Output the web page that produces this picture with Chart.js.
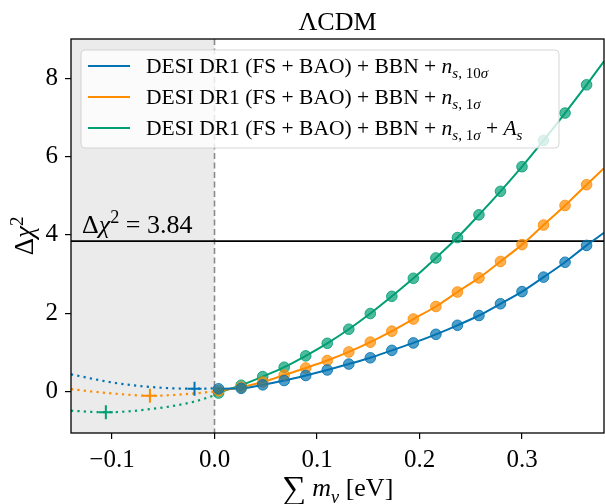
<!DOCTYPE html>
<html>
<head>
<meta charset="utf-8">
<script src="https://cdn.jsdelivr.net/npm/chart.js@4.4.1/dist/chart.umd.min.js"></script>
<style>
  body { margin: 0; background: #fff; }
  #wrap { width: 605px; height: 504px; }
</style>
</head>
<body>
<div id="wrap"><canvas id="chi2Chart" width="605" height="504"></canvas></div>
<script>
// sampled Σmν values (eV) with the Δχ² markers of each dataset
const mnu = [0.004, 0.026, 0.047, 0.068, 0.089, 0.110, 0.131, 0.152, 0.173, 0.194, 0.216, 0.237, 0.258, 0.279, 0.300, 0.321, 0.342, 0.363];
const chi2Ns10 = [0.07, 0.08, 0.17, 0.28, 0.41, 0.55, 0.70, 0.86, 1.05, 1.24, 1.46, 1.69, 1.94, 2.24, 2.55, 2.92, 3.30, 3.73];
const chi2Ns1 = [0.02, 0.11, 0.24, 0.42, 0.60, 0.79, 1.01, 1.26, 1.54, 1.85, 2.17, 2.54, 2.90, 3.32, 3.75, 4.25, 4.75, 5.28];
const chi2Ns1As = [-0.04, 0.16, 0.38, 0.62, 0.91, 1.23, 1.59, 1.99, 2.43, 2.89, 3.41, 3.93, 4.51, 5.11, 5.74, 6.41, 7.11, 7.83];

// fitted curve end values (at Σmν = 0 and at the right edge 0.38)
const fitEnds = [0, 0.38];
const fitNs10Ends = [0.08, 4.05];
const fitNs1Ends = [0.0, 5.70];
const fitNs1AsEnds = [-0.10, 8.43];

// dotted extrapolation into negative Σmν
const extNs10X = [-0.14, -0.12, -0.10, -0.08, -0.06, -0.04, -0.0195, 0];
const extNs10 = [0.44, 0.33, 0.23, 0.16, 0.11, 0.08, 0.07, 0.08];
const extNs1X = [-0.14, -0.12, -0.10, -0.08, -0.063, -0.04, -0.02, 0];
const extNs1 = [0.06, 0.0, -0.05, -0.09, -0.11, -0.09, -0.05, 0.0];
const extNs1AsX = [-0.14, -0.12, -0.106, -0.085, -0.069, -0.043, -0.02, 0];
const extNs1As = [-0.49, -0.52, -0.53, -0.51, -0.47, -0.38, -0.26, -0.10];

// minima (+ markers)
const minMnu = [-0.0195, -0.063, -0.106];
const minChi2 = [0.07, -0.11, -0.53];

const threshold = 3.84;
const xTicks = [-0.1, 0.0, 0.1, 0.2, 0.3];
const yTicks = [0, 2, 4, 6, 8];

const colors = ['#0173b2', '#ff8c00', '#029e73'];
const SERIF = '"Liberation Serif", "Times New Roman", serif';

// legend labels as pieces: i = italic, s = 'sub' / 'sup'
const legendLabels = [
  [{t: 'DESI DR1 (FS + BAO) + BBN + '}, {t: 'n', i: 1}, {t: 's', i: 1, s: 'sub'}, {t: ', 10', s: 'sub'}, {t: 'σ', i: 1, s: 'sub'}],
  [{t: 'DESI DR1 (FS + BAO) + BBN + '}, {t: 'n', i: 1}, {t: 's', i: 1, s: 'sub'}, {t: ', 1', s: 'sub'}, {t: 'σ', i: 1, s: 'sub'}],
  [{t: 'DESI DR1 (FS + BAO) + BBN + '}, {t: 'n', i: 1}, {t: 's', i: 1, s: 'sub'}, {t: ', 1', s: 'sub'}, {t: 'σ', i: 1, s: 'sub'},
   {t: ' + '}, {t: 'A', i: 1}, {t: 's', i: 1, s: 'sub'}]
];
const titleText = [{t: 'ΛCDM'}];
const xLabel = [{t: '∑', big: 1}, {t: ' '}, {t: 'm', i: 1}, {t: 'ν', i: 1, s: 'sub'}, {t: ' [eV]'}];
const yLabel = [{t: 'Δ'}, {t: 'χ', i: 1}, {t: '2', s: 'sup'}];
const thrLabel = [{t: 'Δ'}, {t: 'χ', i: 1}, {t: '2', s: 'sup'}, {t: ' = 3.84'}];

function pts(xs, ys) { return xs.map((x, k) => ({x: x, y: ys[k]})); }
function alpha(hex, a) {
  const n = parseInt(hex.slice(1), 16);
  return 'rgba(' + (n >> 16) + ',' + ((n >> 8) & 255) + ',' + (n & 255) + ',' + a + ')';
}

function partFont(p, size) {
  let s = size;
  if (p.s) s = size * 0.7;
  if (p.big) s = size * 1.3;
  return (p.i ? 'italic ' : '') + s.toFixed(1) + 'px ' + SERIF;
}
function richWidth(ctx, parts, size) {
  let w = 0;
  parts.forEach(p => { ctx.font = partFont(p, size); w += ctx.measureText(p.t).width; });
  return w;
}
function drawRich(ctx, x, y, parts, size) {
  ctx.textBaseline = 'alphabetic';
  ctx.textAlign = 'left';
  parts.forEach(p => {
    ctx.font = partFont(p, size);
    let dy = 0;
    if (p.s === 'sub') dy = size * 0.25;
    if (p.s === 'sup') dy = -size * 0.38;
    if (p.big) dy = size * 0.1;
    ctx.fillText(p.t, x, y + dy);
    x += ctx.measureText(p.t).width;
  });
}

const datasets = [];
const series = [chi2Ns10, chi2Ns1, chi2Ns1As];
const ends = [fitNs10Ends, fitNs1Ends, fitNs1AsEnds];
const extX = [extNs10X, extNs1X, extNs1AsX];
const extY = [extNs10, extNs1, extNs1As];
series.forEach((ys, k) => {
  // markers
  datasets.push({
    data: pts(mnu, ys), showLine: false, order: 0,
    pointRadius: 5.3, pointBorderWidth: 1,
    pointBackgroundColor: alpha(colors[k], 0.7), pointBorderColor: alpha(colors[k], 0.85)
  });
  // fitted solid curve
  datasets.push({
    data: pts([fitEnds[0]].concat(mnu, [fitEnds[1]]), [ends[k][0]].concat(ys, [ends[k][1]])),
    showLine: true, order: 2, pointRadius: 0, borderColor: colors[k], borderWidth: 2,
    cubicInterpolationMode: 'monotone'
  });
  // dotted extrapolation
  datasets.push({
    data: pts(extX[k], extY[k]), showLine: true, order: 2, pointRadius: 0,
    borderColor: colors[k], borderWidth: 2.2, borderDash: [2.2, 4.2], borderCapStyle: 'butt',
    cubicInterpolationMode: 'monotone'
  });
  // minimum
  datasets.push({
    data: [{x: minMnu[k], y: minChi2[k]}], showLine: false, order: 1,
    pointStyle: 'cross', pointRadius: 7, pointBorderWidth: 2,
    pointBorderColor: colors[k], pointBackgroundColor: colors[k]
  });
});

const decor = {
  id: 'decor',
  beforeDatasetsDraw(chart) {
    const {ctx, chartArea: a, scales: {x, y}} = chart;
    const x0 = x.getPixelForValue(0);
    ctx.save();
    ctx.fillStyle = '#ebebeb';
    ctx.fillRect(a.left, a.top, x0 - a.left, a.bottom - a.top);
    // dashed Σmν = 0
    ctx.strokeStyle = '#8a8a8a';
    ctx.lineWidth = 1.6;
    ctx.setLineDash([6, 3.5]);
    ctx.beginPath();
    ctx.moveTo(x0, a.top); ctx.lineTo(x0, a.bottom);
    ctx.stroke();
    ctx.setLineDash([]);
    // threshold
    const yt = y.getPixelForValue(threshold);
    ctx.strokeStyle = '#000';
    ctx.lineWidth = 1.6;
    ctx.beginPath();
    ctx.moveTo(a.left, yt); ctx.lineTo(a.right, yt);
    ctx.stroke();
    ctx.fillStyle = '#000';
    drawRich(ctx, a.left + 11, yt - 8, thrLabel, 26);
    ctx.restore();
  },
  afterDatasetsDraw(chart) {
    const {ctx, chartArea: a} = chart;
    ctx.save();
    // frame
    ctx.strokeStyle = '#000';
    ctx.lineWidth = 1.3;
    ctx.strokeRect(a.left, a.top, a.right - a.left, a.bottom - a.top);
    // legend
    const lx = a.left + 10, ly = a.top + 11, lw = 478, lh = 98;
    ctx.beginPath();
    ctx.roundRect(lx, ly, lw, lh, 4);
    ctx.fillStyle = 'rgba(255,255,255,0.8)';
    ctx.fill();
    ctx.strokeStyle = 'rgba(204,204,204,0.8)';
    ctx.lineWidth = 1;
    ctx.stroke();
    legendLabels.forEach((lab, k) => {
      const ry = ly + 16 + k * 31;
      ctx.strokeStyle = colors[k];
      ctx.lineWidth = 2;
      ctx.beginPath();
      ctx.moveTo(lx + 7, ry); ctx.lineTo(lx + 49, ry);
      ctx.stroke();
      ctx.fillStyle = '#000';
      drawRich(ctx, lx + 65, ry + 7, lab, 21.5);
    });
    // title
    const cx = (a.left + a.right) / 2;
    ctx.fillStyle = '#000';
    drawRich(ctx, cx - richWidth(ctx, titleText, 26) / 2, a.top - 9, titleText, 26);
    // x label
    drawRich(ctx, cx - richWidth(ctx, xLabel, 26) / 2, 496, xLabel, 26);
    // y label
    ctx.translate(33, (a.top + a.bottom) / 2);
    ctx.rotate(-Math.PI / 2);
    drawRich(ctx, -richWidth(ctx, yLabel, 27) / 2, 0, yLabel, 27);
    ctx.restore();
  }
};

new Chart(document.getElementById('chi2Chart'), {
  type: 'scatter',
  data: {datasets: datasets},
  options: {
    responsive: false,
    animation: false,
    layout: {autoPadding: false, padding: {top: 39, right: 1, left: 0, bottom: 0}},
    plugins: {legend: {display: false}, tooltip: {enabled: false}},
    scales: {
      x: {
        type: 'linear', min: -0.14, max: 0.38,
        afterBuildTicks: s => { s.ticks = xTicks.map(v => ({value: v})); },
        afterFit: s => { s.height = 71; },
        grid: {drawOnChartArea: false, tickLength: 6, color: '#000', lineWidth: 1.2},
        border: {display: false},
        ticks: {
          color: '#000', padding: 6, maxRotation: 0,
          font: {family: SERIF, size: 25},
          callback: v => (v < 0 ? '\u2212' : '') + Math.abs(v).toFixed(1)
        }
      },
      y: {
        type: 'linear', min: -1.06, max: 9.0,
        afterBuildTicks: s => { s.ticks = yTicks.map(v => ({value: v})); },
        afterFit: s => { s.width = 71; },
        grid: {drawOnChartArea: false, tickLength: 6, color: '#000', lineWidth: 1.2},
        border: {display: false},
        ticks: {
          color: '#000', padding: 7,
          font: {family: SERIF, size: 25},
          callback: v => String(v)
        }
      }
    }
  },
  plugins: [decor]
});
</script>
</body>
</html>
